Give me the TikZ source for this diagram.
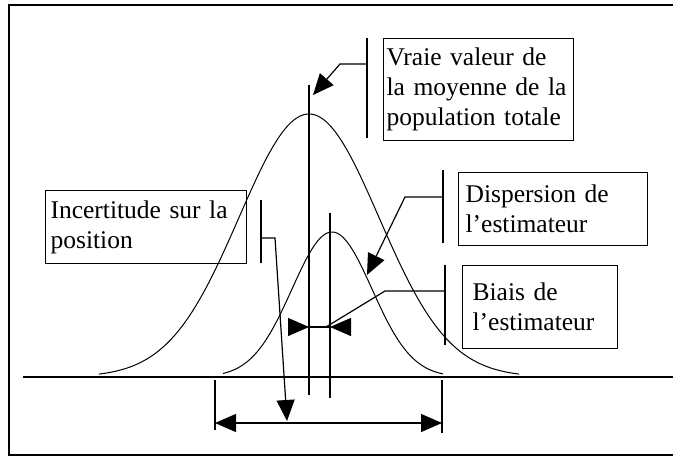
\documentclass[tikz,border=0pt]{standalone}
\usepackage{fontspec}
\setmainfont{Liberation Serif}
\usetikzlibrary{arrows.meta}
\tikzset{
  callbox/.style={draw, line width=1.2pt, anchor=north west, align=left,
    inner ysep=0pt, font=\fontsize{25.5}{30}\selectfont},
  leader/.style={line width=1.2pt, -{Triangle[length=21pt,width=18pt]}},
  curve/.style={line width=1pt, smooth},
}

\begin{document}
\begin{tikzpicture}[x=1pt, y=-1pt, line width=1.2pt]
  \useasboundingbox (0,0) rectangle (673,461);
  % frame and axis
  \draw[line width=1.5pt] (673,5) -- (9,5) -- (9,455) -- (673,455);
  \draw (23,377) -- (673,377);
  % population (wide) and estimator (narrow)
  \draw[curve] plot[domain=99:519, samples=120] (\x, {377-263*exp(-((\x-309)/70)^2/2)});
  \draw[curve] plot[domain=223:443, samples=100] (\x, {377-145*exp(-((\x-332)/40)^2/2)});
  % means
  \coordinate (mu top) at (309,85);
  \coordinate (mu bot) at (309,395);
  \coordinate (est top) at (330,213);
  \coordinate (est bot) at (330,398);
  \draw (mu top) -- (mu bot);
  \draw (est top) -- (est bot);

  % callout boxes
  \node[callbox, text width=184pt, inner xsep=3pt, minimum height=102pt]
    (vraie) at (383,38) {Vraie valeur de\\la moyenne de la\\population totale};
  \node[callbox, text width=175pt, inner xsep=7pt, minimum height=73pt]
    (disp) at (458,172) {Dispersion de\\l'estimateur};
  \node[callbox, text width=135pt, inner xsep=10pt, minimum height=83pt]
    (biais) at (462,265) {Biais de\\l'estimateur};
  \node[callbox, text width=191pt, inner xsep=5pt, minimum height=73pt]
    (incert) at (45,190) {Incertitude sur la\\position};
  % callout bars
  \foreach \bx/\ba/\bb in {367/38/138, 443/170/243, 445/265/345, 261/200/263}
    \draw (\bx,\ba) -- (\bx,\bb);

  % leaders
  \coordinate (v0) at (367,64);
  \coordinate (vtip) at (313,95);
  \draw[leader] (v0) -- ++(-27,0) -- (vtip);
  \coordinate (d0) at (443,197);
  \coordinate (dtip) at (367,275);
  \draw[leader] (d0) -- ++(-38,0) -- (dtip);
  \coordinate (b0) at (445,291);
  \coordinate (bend) at (326,327);
  \draw (b0) -- ++(-60,0) -- (bend);
  \coordinate (i0) at (261,238);
  \coordinate (itip) at (287,421);
  \draw[leader] (i0) -- ++(14,0) -- (itip);

  % bias marks
  \coordinate (bl) at (288,327);
  \coordinate (br) at (350,327);
  \draw[leader] (bl) -- (mu bot |- bl);
  \draw[leader] (br) -- (est bot |- br);
  \draw (mu bot |- bl) -- (est bot |- br);

  % spread of the estimate
  \coordinate (sl) at (215,423);
  \coordinate (sr) at (442,423);
  \draw (215,380) -- (215,430);
  \draw (442,380) -- (442,433);
  \draw[leader, {Triangle[length=21pt,width=18pt]}-{Triangle[length=21pt,width=18pt]}] (sl) -- (sr);
\end{tikzpicture}
\end{document}
